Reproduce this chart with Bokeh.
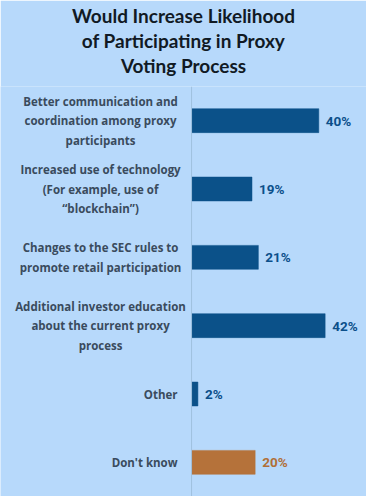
from bokeh.plotting import figure
from bokeh.models import ColumnDataSource, Range1d, FactorRange, Span, Title
from bokeh.core.properties import value
from bokeh.embed import file_html
from bokeh.resources import INLINE

# ---- data ----
categories = ["Better communication", "Increased use of technology", "Changes to the SEC rules",
              "Additional investor education", "Other", "Don't know"]
label_texts = ["Better communication and\ncoordination among proxy\nparticipants",
               "Increased use of technology\n(For example, use of\n\u201cblockchain\u201d)",
               "Changes to the SEC rules to\npromote retail participation",
               "Additional investor education\nabout the current proxy\nprocess",
               "Other",
               "Don't know"]
values = [40, 19, 21, 42, 2, 20]
value_labels = ["40%", "19%", "21%", "42%", "2%", "20%"]
bar_colors = ["#0b5189", "#0b5189", "#0b5189", "#0b5189", "#0b5189", "#b5723a"]
value_colors = ["#0b4f8a", "#0b4f8a", "#0b4f8a", "#0b4f8a", "#0b4f8a", "#b06f38"]
title_lines = ["Would Increase Likelihood", "of Participating in Proxy", "Voting Process"]

BG = "#b7d9fb"

p = figure(width=366, height=496, output_backend="svg", toolbar_location=None,
           x_range=Range1d(-60.06, 55.0),
           y_range=FactorRange(factors=list(reversed(categories))),
           x_axis_location=None, y_axis_location=None,
           min_border_left=0, min_border_right=0, min_border_bottom=0, min_border_top=86)
p.background_fill_color = BG
p.border_fill_color = BG
p.outline_line_color = None
p.xgrid.visible = False
p.ygrid.visible = False

# spacer between frame and title block
p.add_layout(Title(text="\u00a0", text_font_size="2px", text_color=BG, standoff=6), "above")
# title lines (later added sits higher)
for line in reversed(title_lines):
    p.add_layout(Title(text=line, align="center", text_font="Lato",
                       text_font_size="19px", text_font_style="bold", text_color="#111a24",
                       offset=0, standoff=0), "above")

src = ColumnDataSource(dict(cat=categories, val=values, lab=value_labels,
                            bc=bar_colors, vc=value_colors))

p.hbar(y="cat", right="val", left=0, height=0.35, source=src,
       fill_color="bc", line_color="bc", line_width=0.5)

p.add_layout(Span(location=0, dimension="height", line_color="#9fc0df", line_width=1))

p.text(x="val", y="cat", text="lab", source=src, x_offset=7,
       text_align="left", text_baseline="middle", text_color="vc",
       text_font=value("Roboto"), text_font_style="bold",
       text_font_size="13.5px")

multi = [i for i, t in enumerate(label_texts) if "\n" in t]
single = [i for i, t in enumerate(label_texts) if "\n" not in t]
src_m = ColumnDataSource(dict(cat=[categories[i] for i in multi], txt=[label_texts[i] for i in multi],
                              x=[0] * len(multi)))
src_s = ColumnDataSource(dict(cat=[categories[i] for i in single], txt=[label_texts[i] for i in single],
                              x=[0] * len(single)))
p.text(x="x", y="cat", text="txt", source=src_m, x_offset=-91,
       text_align="center", text_baseline="middle", text_color="#3a4b5d",
       text_font=value("Open Sans"), text_font_style="bold", text_font_size="11.5px",
       text_line_height=1.3)
p.text(x="x", y="cat", text="txt", source=src_s, x_offset=-14,
       text_align="right", text_baseline="middle", text_color="#3a4b5d",
       text_font=value("Open Sans"), text_font_style="bold", text_font_size="11.5px")

open("out.html", "w").write(file_html(p, INLINE))
